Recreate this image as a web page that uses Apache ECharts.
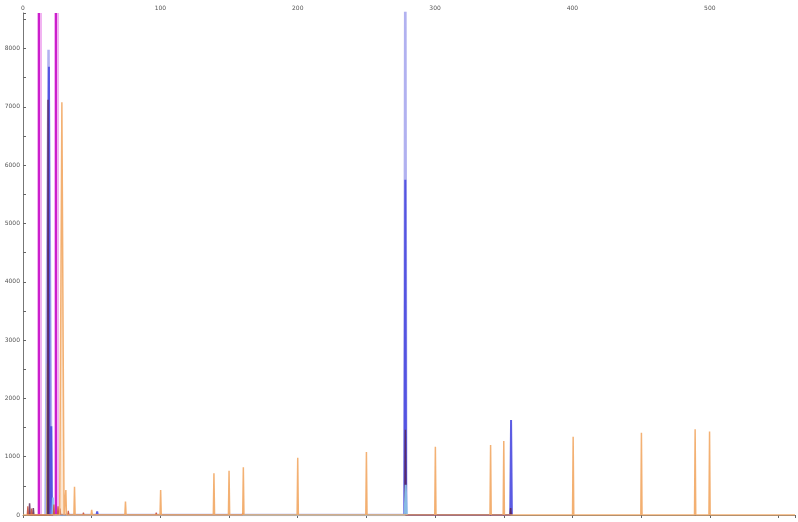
<!DOCTYPE html>
<html>
<head>
<meta charset="utf-8">
<script src="https://cdn.jsdelivr.net/npm/echarts@6/dist/echarts.min.js"></script>
<style>
  html, body { margin: 0; padding: 0; background: #fff; }
  #chart { width: 798px; height: 522px; }
</style>
</head>
<body>
<div id="chart"></div>
<script>
// Axis extents and tick steps
const xMax = 562;
const yMax = 8610;
const xTickStep = 50;
const yTickStep = 500;

// Region markers (fragment size)
const markerPositions = [11.6, 23.9];

// Peaks per dye channel: [size, height, optional half-width]
const orangePeaks = [
  [28.3, 7080, 1.6], [31.2, 430], [37.5, 485], [50.0, 90], [74.6, 230],
  [100.2, 430], [139.0, 715], [150.0, 760], [160.4, 818], [200.0, 980],
  [250.0, 1080], [300.2, 1170], [340.4, 1200], [350.0, 1270], [400.5, 1343],
  [450.2, 1412], [489.3, 1470], [499.8, 1430]
];
const lavenderPeaks = [[18.6, 7980, 2.2], [278.3, 9800, 0.7]];
const bluePeaks = [[18.9, 7690], [20.6, 1520], [54.0, 60], [278.3, 5750, 0.6], [355.3, 1630, 0.6]];
const yellowPeaks = [[17.9, 2600]];
const maroonPeaks = [[4.8, 200], [7.5, 120], [18.2, 7120], [278.4, 1460], [355.0, 120]];
const lightBluePeaks = [[278.6, 520, 0.8], [21.8, 300]];
const redPeaks = [[3.5, 150], [6.2, 110], [22.5, 180], [25.5, 150], [27.0, 110], [33.0, 70], [44.0, 40], [97.0, 40], [160.0, 35]];

// Turn a peak list into a trace sitting on the baseline
function trace(peaks, halfWidth, fullRange) {
  const pts = [];
  if (fullRange) pts.push([0, 0]);
  peaks.slice().sort((a, b) => a[0] - b[0]).forEach(p => {
    const hw = p[2] || halfWidth;
    pts.push([p[0] - hw, 0], [p[0], p[1]], [p[0] + hw, 0]);
  });
  if (fullRange) pts.push([xMax, 0]);
  return pts;
}

function channel(name, color, peaks, opts) {
  opts = opts || {};
  return {
    name: name,
    type: 'line',
    data: trace(peaks, opts.halfWidth || 0.45, opts.fullRange),
    showSymbol: false,
    symbol: 'none',
    silent: true,
    z: opts.z || 2,
    lineStyle: { color: color, width: opts.width || 1.5, opacity: opts.opacity || 0.9 },
    areaStyle: { color: color, opacity: opts.fill || 0.25 },
    clip: true
  };
}

const chart = echarts.init(document.getElementById('chart'), null, { renderer: 'canvas' });

chart.setOption({
  animation: false,
  backgroundColor: '#ffffff',
  grid: { left: 23, right: 0, top: 13, bottom: 7, containLabel: false },
  xAxis: {
    type: 'value',
    position: 'top',
    min: 0,
    max: xMax,
    interval: xTickStep,
    axisLine: { show: true, lineStyle: { color: '#777', width: 1 } },
    axisTick: { show: true, inside: true, length: 3, lineStyle: { color: '#666' } },
    axisLabel: {
      fontSize: 6, color: '#555', margin: 2, fontFamily: 'DejaVu Sans',
      formatter: v => (v % 100 === 0 ? String(v) : '')
    },
    splitLine: { show: false }
  },
  yAxis: {
    type: 'value',
    min: 0,
    max: yMax,
    interval: yTickStep,
    axisLine: { show: true, lineStyle: { color: '#777', width: 1 } },
    axisTick: { show: true, inside: true, length: 3, lineStyle: { color: '#666' } },
    axisLabel: {
      fontSize: 6, color: '#555', margin: 3, fontFamily: 'DejaVu Sans',
      formatter: v => (v % 1000 === 0 ? String(v) : '')
    },
    splitLine: { show: false }
  },
  series: [
    channel('lavender', '#aaaaee', lavenderPeaks, { width: 2.5, z: 2, fill: 0.35 }),
    channel('yellow', '#e6d84a', yellowPeaks, { z: 3 }),
    channel('blue', '#4b4be0', bluePeaks, { width: 2, z: 4 }),
    channel('maroon', '#5a2352', maroonPeaks, { z: 5, opacity: 0.8 }),
    channel('lightblue', '#8cc6ee', lightBluePeaks, { width: 2, z: 6 }),
    channel('red', '#c8503c', redPeaks, { width: 1.2, z: 6 }),
    channel('orange', '#f2a865', orangePeaks, { fullRange: true, width: 1.5, z: 7, fill: 0.3 }),
    {
      name: 'marker-halo',
      type: 'line',
      data: [],
      silent: true,
      z: 8,
      markLine: {
        silent: true,
        symbol: ['none', 'none'],
        label: { show: false },
        lineStyle: { color: '#f1b4f1', width: 5, type: 'solid' },
        data: markerPositions.map(x => ({ xAxis: x }))
      }
    },
    {
      name: 'markers',
      type: 'line',
      data: [],
      silent: true,
      z: 9,
      markLine: {
        silent: true,
        symbol: ['none', 'none'],
        label: { show: false },
        lineStyle: { color: '#cc1fcc', width: 2, type: 'solid' },
        data: markerPositions.map(x => ({ xAxis: x }))
      }
    }
  ]
});
</script>
</body>
</html>
